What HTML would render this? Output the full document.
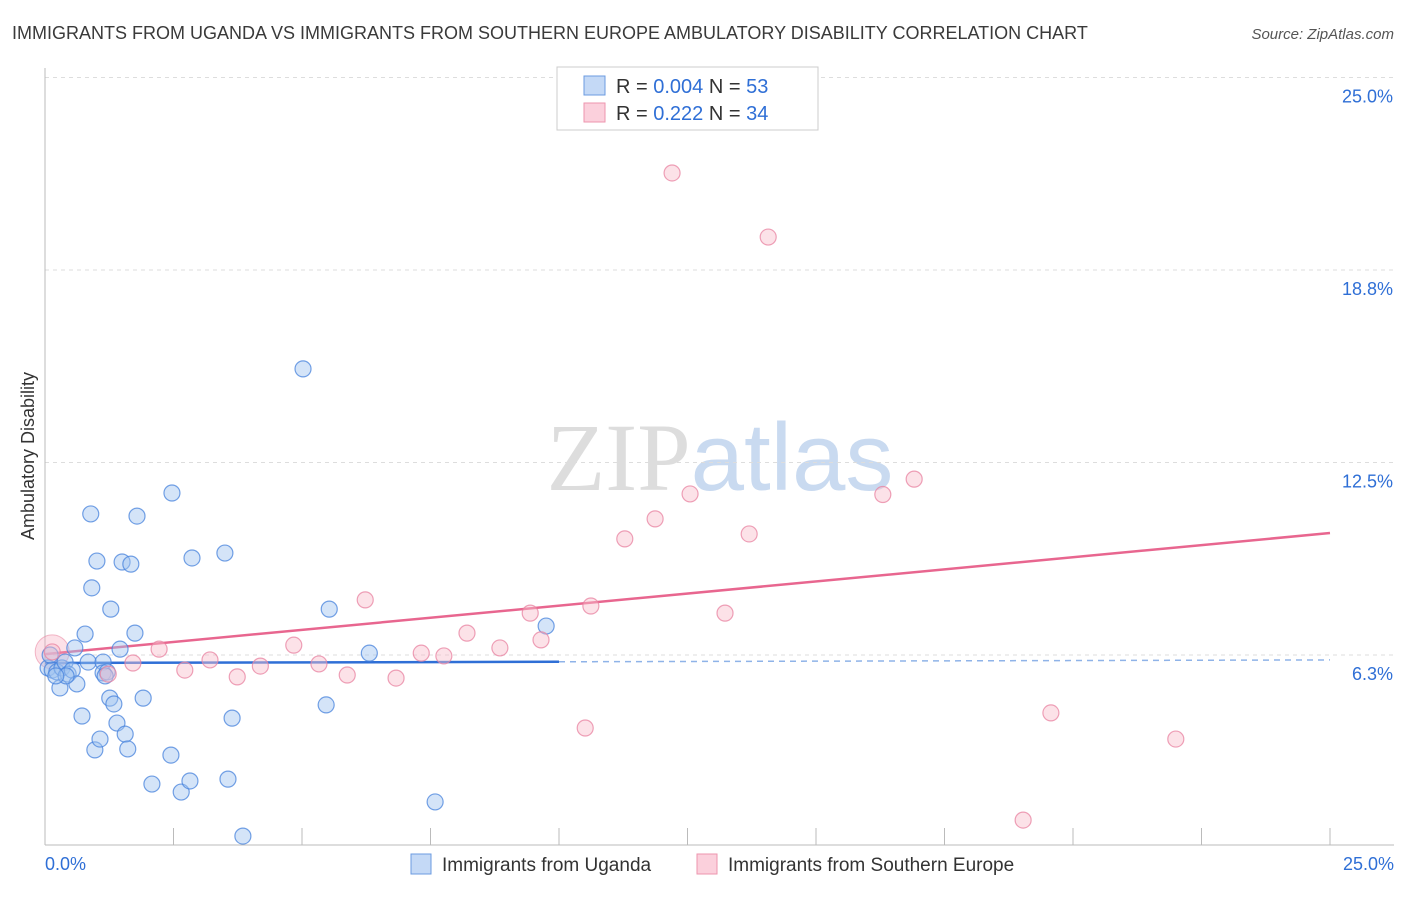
<!DOCTYPE html>
<html><head><meta charset="utf-8"><style>
body{margin:0;background:#fff;font-family:"Liberation Sans",sans-serif;}
svg text{font-family:"Liberation Sans",sans-serif;}
</style></head><body>
<svg id="chart" width="1406" height="892" xmlns="http://www.w3.org/2000/svg">
<text x="12" y="39" font-size="18" fill="#3a3a3a">IMMIGRANTS FROM UGANDA VS IMMIGRANTS FROM SOUTHERN EUROPE AMBULATORY DISABILITY CORRELATION CHART</text>
<text x="1394" y="39" font-size="15" fill="#555" font-style="italic" text-anchor="end">Source: ZipAtlas.com</text>
<text x="720" y="490" font-size="96" text-anchor="middle"><tspan fill="#ddd" font-family="Liberation Serif">ZIP</tspan><tspan fill="#c9daf0">atlas</tspan></text>
<text transform="translate(34,456) rotate(-90)" font-size="18" fill="#333" text-anchor="middle">Ambulatory Disability</text>
<g id="grid"></g><g id="axes"></g><g id="trends"></g><g id="points"></g>
<g>
<rect x="557" y="67" width="261" height="63" fill="#fff" stroke="#ccc"/>
<rect x="584" y="76" width="21" height="19" fill="#c4d9f6" stroke="#6b9be0"/>
<rect x="584" y="103" width="21" height="19" fill="#fbd0dc" stroke="#ee95ae"/>
<text x="616" y="93" font-size="20" fill="#333">R = <tspan fill="#2f6fd6">0.004</tspan>   N = <tspan fill="#2f6fd6">53</tspan></text>
<text x="616" y="120" font-size="20" fill="#333">R =  <tspan fill="#2f6fd6">0.222</tspan>   N = <tspan fill="#2f6fd6">34</tspan></text>
</g>
<g>
<rect x="411" y="854" width="20" height="20" fill="#c4d9f6" stroke="#6b9be0"/>
<text x="442" y="871" font-size="19" fill="#333">Immigrants from Uganda</text>
<rect x="697" y="854" width="20" height="20" fill="#fbd0dc" stroke="#ee95ae"/>
<text x="728" y="871" font-size="19" fill="#333">Immigrants from Southern Europe</text>
</g>
</svg>
<script>
const yTicks=[6.3,12.5,18.8,25.0];
const xTickLabels=["0.0%","25.0%"];
const ugandaX=[0.06,0.14,0.23,0.29,0.33,0.39,0.45,0.53,0.58,0.62,0.72,0.78,0.84,0.89,0.91,0.97,1.01,1.07,1.13,1.13,1.21,1.26,1.28,1.34,1.40,1.46,1.50,1.56,1.61,1.67,1.75,1.79,1.91,2.08,2.45,2.47,2.65,2.82,2.86,3.50,3.56,3.64,3.85,5.02,5.47,5.53,6.31,7.59,9.75,1.17,0.41,0.21,0.10];
const ugandaY=[5.83,5.76,5.70,5.18,5.83,6.02,5.63,5.76,6.48,5.31,4.27,6.93,6.02,10.83,8.43,3.17,9.30,3.52,6.02,5.67,5.70,4.85,7.74,4.66,4.04,6.44,9.27,3.68,3.20,9.20,6.96,10.76,4.85,2.06,3.00,11.51,1.80,2.16,9.40,9.56,2.22,4.20,0.37,15.54,4.63,7.74,6.31,1.48,7.19,5.57,5.57,5.57,6.25];
const seX=[0.14,1.23,1.71,2.22,2.72,3.21,3.74,4.19,4.84,5.33,5.88,6.23,6.83,7.32,7.76,8.21,8.85,9.44,9.65,10.51,10.62,11.28,11.87,12.20,12.55,13.23,13.70,14.07,16.30,16.91,19.03,19.57,22.00];
const seY=[6.35,5.63,5.99,6.44,5.76,6.09,5.54,5.89,6.57,5.96,5.60,8.04,5.50,6.31,6.22,6.96,6.48,7.61,6.74,3.88,7.84,10.02,10.67,21.90,11.48,7.61,10.18,19.82,11.46,11.96,0.89,4.37,3.52];
const ugandaTrend=[5.99,6.09];
const seTrend=[6.28,10.21];
const NS="http://www.w3.org/2000/svg";
const X=v=>45+v/25*1285;
const Y=v=>847.5-v/6.25*192.5;
function mk(parent,tag,attrs){const e=document.createElementNS(NS,tag);for(const k in attrs)e.setAttribute(k,attrs[k]);document.getElementById(parent).appendChild(e);return e;}
yTicks.forEach(t=>{
 const l=mk('grid','line',{x1:45,x2:1394,y1:Y(t===6.3?6.25:t===18.8?18.75:t),y2:Y(t===6.3?6.25:t===18.8?18.75:t),stroke:'#ddd','stroke-dasharray':'4,4'});
 
 
 const tx=mk('grid','text',{x:1393,y:Y(t===6.3?6.25:t===18.8?18.75:t)+25,'font-size':18,fill:'#2f6fd6','text-anchor':'end'});
 tx.textContent=t.toFixed(1)+'%';
 
 
});
let a=mk('axes','line',{x1:45,x2:45,y1:68,y2:845,stroke:'#bbb'});


a=mk('axes','line',{x1:45,x2:1394,y1:845,y2:845,stroke:'#bbb'});


for(let i=0;i<=10;i++){const t=mk('axes','line',{x1:X(i*2.5),x2:X(i*2.5),y1:828,y2:845,stroke:'#bbb'});
 
 }
xTickLabels.forEach((s,i)=>{const t=mk('axes','text',{x:i?1394:45,y:870,'font-size':18,fill:'#2f6fd6','text-anchor':i?'end':'start'});t.textContent=s;
 
 });
let tr=mk('trends','line',{x1:X(0),y1:Y(ugandaTrend[0]),x2:X(10),y2:Y(ugandaTrend[0]+(ugandaTrend[1]-ugandaTrend[0])*0.4),stroke:'#2f6fd6','stroke-width':2.5});


tr=mk('trends','line',{x1:X(10),y1:Y(ugandaTrend[0]+(ugandaTrend[1]-ugandaTrend[0])*0.4),x2:X(25),y2:Y(ugandaTrend[1]),stroke:'#8fb3e8','stroke-width':1.5,'stroke-dasharray':'6,5'});


tr=mk('trends','line',{x1:X(0),y1:Y(seTrend[0]),x2:X(25),y2:Y(seTrend[1]),stroke:'#e8668f','stroke-width':2.5});


const big=mk('points','circle',{cx:X(0.14),cy:Y(6.35),r:17,fill:'rgba(245,170,190,0.35)',stroke:'rgba(232,120,150,0.5)'});


ugandaX.forEach((x,i)=>{const c=mk('points','circle',{cx:X(x),cy:Y(ugandaY[i]),r:8,fill:'rgba(160,195,240,0.45)',stroke:'rgba(70,130,220,0.75)','stroke-width':1.2});
 
 });
seX.forEach((x,i)=>{const c=mk('points','circle',{cx:X(x),cy:Y(seY[i]),r:8,fill:'rgba(248,190,205,0.45)',stroke:'rgba(232,130,160,0.75)','stroke-width':1.2});
 
 });
</script>
</body></html>
